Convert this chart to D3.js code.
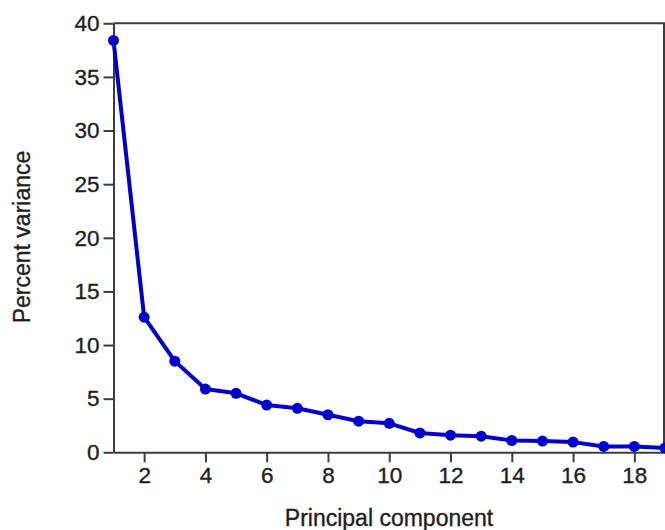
<!DOCTYPE html>
<html>
<head>
<meta charset="utf-8">
<script src="https://cdn.jsdelivr.net/npm/d3@7"></script>
<style>
  body { margin: 0; background: #fff; }
</style>
</head>
<body>
<div id="scree_plot"></div>
<script>
const components = [1,2,3,4,5,6,7,8,9,10,11,12,13,14,15,16,17,18,19];
const percentVariance = [38.4,12.6,8.5,5.9,5.5,4.4,4.1,3.5,2.9,2.7,1.8,1.6,1.5,1.1,1.05,0.95,0.55,0.55,0.4];
const xTickValues = [2,4,6,8,10,12,14,16,18];
const yTickValues = [0,5,10,15,20,25,30,35,40];

const width = 665;
const height = 530;
const lineColor = "#0000cc";
const axisColor = "#3c3c3c";
const textColor = "#1e1e1e";
const fontFamily = "Liberation Sans, Arial, sans-serif";

const svg = d3.select("#scree_plot")
  .append("svg")
  .attr("width", width)
  .attr("height", height);

const x = d3.scaleLinear().domain([1, 19]).range([113.5, 665]);
const y = d3.scaleLinear().domain([0, 40]).range([452.3, 23.3]);

function styleText(sel, size){
  sel.attr("font-family", fontFamily)
    .attr("font-size", `${size}px`)
    .attr("fill", textColor)
    .attr("stroke", textColor)   // a bit heavier, like the blurry original
    .attr("stroke-width", 0.35);
}

function styleAxis(g){
  g.selectAll("path, line")
    .attr("stroke", axisColor)
    .attr("stroke-width", 2);
  g.selectAll("text").call(styleText, 22.5);
}

// frame (top and right)
svg.append("path")
  .attr("d", `M${x(1)},${y(40)}H${width - 1}V${y(0)}`)
  .attr("fill", "none")
  .attr("stroke", axisColor)
  .attr("stroke-width", 2);

// y axis
svg.append("g")
  .attr("transform", `translate(${x(1)},0)`)
  .call(d3.axisLeft(y).tickValues(yTickValues).tickSize(10).tickSizeOuter(0).tickPadding(4))
  .call(styleAxis);

// x axis
svg.append("g")
  .attr("transform", `translate(0,${y(0)})`)
  .call(d3.axisBottom(x).tickValues(xTickValues).tickSize(10).tickSizeOuter(0).tickPadding(5))
  .call(styleAxis);

const points = components.map((c, i) => ({c: c, v: percentVariance[i]}));

const line = d3.line()
  .x(d => x(d.c))
  .y(d => y(d.v));

svg.append("path")
  .datum(points)
  .attr("d", line)
  .attr("fill", "none")
  .attr("stroke", lineColor)
  .attr("stroke-width", 4)
  .attr("stroke-linejoin", "round");

svg.selectAll("circle.pt")
  .data(points)
  .enter()
  .append("circle")
  .attr("class", "pt")
  .attr("cx", d => x(d.c))
  .attr("cy", d => y(d.v))
  .attr("r", 5.5)
  .attr("fill", lineColor);

// axis titles
svg.append("text")
  .attr("x", 389)
  .attr("y", 526)
  .attr("text-anchor", "middle")
  .call(styleText, 23)
  .text("Principal component");

svg.append("text")
  .attr("transform", "translate(30,237) rotate(-90)")
  .attr("text-anchor", "middle")
  .call(styleText, 23)
  .text("Percent variance");
</script>
</body>
</html>
